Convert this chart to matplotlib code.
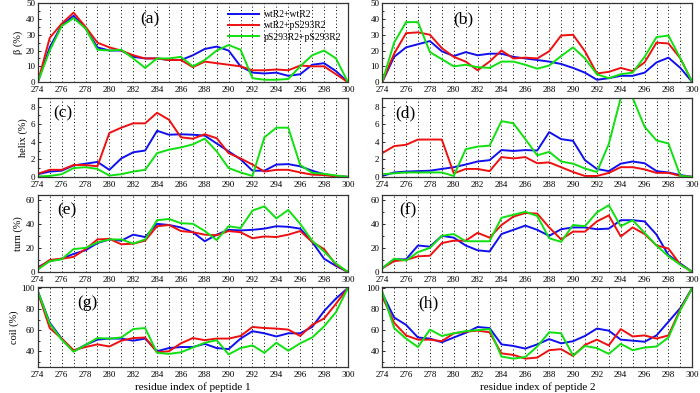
import matplotlib
matplotlib.use('Agg')
import matplotlib.pyplot as plt
from matplotlib.ticker import MultipleLocator

plt.rcParams['font.family'] = ['Liberation Serif', 'DejaVu Serif']

residues = list(range(274, 301))
series_names = ['wtR2+wtR2', 'wtR2+pS293R2', 'pS293R2+pS293R2']
colors = ['#1010ee', '#ee1010', '#10e010']

# beta (%)
beta_p1_wt = [0, 22, 36, 42, 34, 22, 20, 20, 16, 15, 15, 14, 14, 17, 21, 22.5, 20, 10, 6, 5.5, 6, 4, 5, 11, 12, 7, 0]
beta_p1_mix = [0, 28, 37, 44, 35, 25, 22, 20, 17, 15, 15, 14, 14, 9.5, 13, 12, 11, 10, 7.5, 7.5, 8, 7.5, 10.5, 10, 10, 5, 0]
beta_p1_ps = [0, 20, 35.5, 40.5, 34, 20.5, 20, 20.5, 15, 9, 15, 15, 16, 10, 14, 20, 23.5, 20.5, 2.5, 1.5, 1.5, 2, 10, 17, 20, 15, 0]
beta_p2_wt = [0, 16, 22, 24, 26, 19.5, 16.5, 19, 17, 18, 18, 16, 15, 14, 13, 11.5, 9, 6, 1.5, 2.5, 4, 4, 6, 12.5, 15.5, 9, 0]
beta_p2_mix = [0, 18, 31, 31.5, 30, 21.5, 16, 13, 7.5, 13, 20, 15, 15.5, 15, 19.5, 29.5, 30, 19.5, 5.5, 6.5, 9, 7, 12.5, 25, 24.5, 15, 0]
beta_p2_ps = [0, 25, 38, 38, 19, 14.5, 10, 11, 9.5, 9, 13, 13, 11, 8.5, 10.5, 16.5, 22, 15, 5, 2.5, 5, 6, 16, 28.5, 29.5, 15, 0]

# helix (%)
helix_p1_wt = [0.3, 0.6, 0.7, 1.3, 1.5, 1.7, 0.8, 2.1, 2.8, 3.0, 5.25, 4.8, 4.85, 4.8, 4.7, 3.8, 2.9, 2.0, 0.7, 0.7, 1.4, 1.45, 1.2, 0.7, 0.3, 0.1, 0]
helix_p1_mix = [0.35, 0.8, 0.8, 1.35, 1.35, 1.2, 5.0, 5.6, 6.1, 6.1, 7.3, 6.5, 4.5, 4.35, 4.85, 4.4, 2.7, 2.1, 1.4, 0.6, 0.8, 0.8, 0.5, 0.25, 0.2, 0.05, 0]
helix_p1_ps = [0.05, 0.1, 0.3, 1.0, 1.1, 0.9, 0.15, 0.3, 0.6, 0.8, 2.7, 3.1, 3.35, 3.7, 4.35, 2.9, 1.0, 0.5, 0.1, 4.5, 5.6, 5.6, 1.35, 0.45, 0.35, 0.15, 0]
helix_p2_wt = [0.1, 0.5, 0.6, 0.65, 0.7, 0.9, 1.1, 1.4, 1.75, 1.9, 3.05, 2.95, 3.05, 3.0, 5.1, 4.3, 4.1, 1.9, 0.9, 0.65, 1.5, 1.75, 1.55, 0.65, 0.5, 0.2, 0]
helix_p2_mix = [2.7, 3.5, 3.65, 4.25, 4.25, 4.25, 0.4, 0.9, 0.9, 0.65, 2.25, 2.1, 2.25, 1.55, 1.65, 1.1, 0.55, 0.1, 0.1, 0.45, 1.1, 1.1, 0.85, 0.45, 0.45, 0.1, 0]
helix_p2_ps = [0.3, 0.4, 0.5, 0.5, 0.5, 0.5, 0.1, 3.15, 3.45, 3.55, 6.35, 6.1, 4.3, 2.45, 2.85, 1.75, 1.5, 0.95, 0.55, 3.75, 9.0, 9.0, 5.7, 4.15, 3.8, 0.1, 0]

# turn (%)
turn_p1_wt = [4, 9, 11, 15, 18, 24, 27, 26, 31, 29, 40, 39, 37, 33, 25.5, 31, 35, 34.5, 35, 36, 38, 37.5, 36, 25, 11, 5, 0]
turn_p1_mix = [3, 10, 11, 12.5, 19, 27, 27.5, 23, 23.5, 26, 38, 39, 34, 33, 31, 30.5, 34, 33, 28, 29.5, 29, 31, 34, 25, 19, 6, 0]
turn_p1_ps = [2, 9, 10.5, 19, 20, 24.5, 27, 27, 23.5, 27, 43, 44, 40.5, 40, 34, 26.5, 38, 36.5, 51, 54.5, 44.5, 51.5, 40, 26, 17, 7, 0]
turn_p2_wt = [3, 10.5, 10.5, 22, 21, 30, 28.5, 22, 18, 17, 31.5, 35, 38.5, 35, 30, 35.5, 37, 37, 35.5, 36, 43, 43, 42, 31, 14, 7, 0]
turn_p2_mix = [3, 9, 10, 13, 13.5, 24, 26, 26, 32.5, 28.5, 39, 46, 49, 48.5, 37, 27, 33.5, 33.5, 42, 47, 29.5, 37, 31.5, 22, 19.5, 6, 0]
turn_p2_ps = [3, 11, 9.5, 16.5, 20, 30, 31.5, 25.5, 25.5, 25.5, 45, 47.5, 50, 46.5, 28, 25, 39, 38, 49.5, 55.5, 38, 43, 32.5, 22, 13, 6, 0]

# coil (%)
coil_p1_wt = [97, 67, 52, 40, 46, 51, 52, 52, 50, 52, 40, 43, 44, 44, 47, 43, 42, 52, 59, 57, 54, 57, 57, 63, 78, 90, 100]
coil_p1_mix = [96, 62, 52, 41, 44, 46.5, 44.5, 50, 52.5, 53, 39, 40, 47.5, 52.5, 50.5, 52, 52, 54.5, 63, 62, 61.5, 60.5, 54.5, 65, 71, 85, 100]
coil_p1_ps = [97, 66, 51, 39.5, 46, 52.5, 52, 53, 61, 62, 38.5, 37.5, 39, 43.5, 48, 50.5, 37, 43, 45.5, 38.5, 48, 40.5, 47.5, 53, 63.5, 77, 100]
coil_p2_wt = [95, 72, 65, 53, 52, 48.5, 53, 57.5, 63, 62, 46.5, 45, 42.5, 46.5, 51.5, 47.5, 49.5, 54.5, 61.5, 59.5, 51, 50, 49, 55, 68, 81, 100]
coil_p2_mix = [92, 67, 55, 51, 51, 49.5, 57, 58.5, 59.5, 58, 38, 36.5, 33, 34, 41, 42, 35.5, 46, 51, 45.5, 61, 54, 55, 52, 55, 80, 100]
coil_p2_ps = [97, 62, 52, 44, 60.5, 54.5, 57, 59, 60, 61, 35, 33, 34.5, 44.5, 58, 57, 36, 45, 43, 37.5, 47, 41, 43.5, 44.5, 53, 79, 100]

panels = [
    ('(a)', [beta_p1_wt, beta_p1_mix, beta_p1_ps]),
    ('(b)', [beta_p2_wt, beta_p2_mix, beta_p2_ps]),
    ('(c)', [helix_p1_wt, helix_p1_mix, helix_p1_ps]),
    ('(d)', [helix_p2_wt, helix_p2_mix, helix_p2_ps]),
    ('(e)', [turn_p1_wt, turn_p1_mix, turn_p1_ps]),
    ('(f)', [turn_p2_wt, turn_p2_mix, turn_p2_ps]),
    ('(g)', [coil_p1_wt, coil_p1_mix, coil_p1_ps]),
    ('(h)', [coil_p2_wt, coil_p2_mix, coil_p2_ps]),
]
row_ylabels = [u'\u03b2 (%)', 'helix (%)', 'turn (%)', 'coil (%)']
row_ylims = [(0, 50), (0, 9), (0, 64), (25, 101)]
row_major = [10, 2, 20, 20]
row_minor = [5, 1, 10, 10]
label_pos = [(0.36, 0.80), (0.26, 0.80), (0.08, 0.80), (0.075, 0.80),
             (0.095, 0.80), (0.083, 0.80), (0.16, 0.80), (0.15, 0.80)]

fig = plt.figure(figsize=(7, 3.93), dpi=100)
rows_bottom = [0.791, 0.550, 0.308, 0.066]
rows_height = [0.201, 0.201, 0.196, 0.204]
cols_left = [0.054, 0.546]
width = 0.443

for i, (tag, data) in enumerate(panels):
    r, c = divmod(i, 2)
    ax = fig.add_axes([cols_left[c], rows_bottom[r], width, rows_height[r]])
    for x in residues:
        ax.axvline(x, color='black', ls=(0, (1, 2.5)), lw=0.7, zorder=0)
    for ys, col, name in zip(data, colors, series_names):
        ax.plot(residues, ys, color=col, lw=1.4, label=name)
    ax.set_xlim(274, 300)
    ax.set_ylim(*row_ylims[r])
    ax.xaxis.set_major_locator(MultipleLocator(2))
    ax.yaxis.set_major_locator(MultipleLocator(row_major[r]))
    ax.yaxis.set_minor_locator(MultipleLocator(row_minor[r]))
    if r == 3:
        ax.set_yticks([40, 60, 80, 100])
    ax.tick_params(axis='both', which='both', direction='in', labelsize=6.5,
                   length=2.5, width=0.6, pad=2)
    ax.tick_params(axis='y', which='minor', length=1.5)
    ax.tick_params(axis='x', length=0, pad=3)
    for s in ax.spines.values():
        s.set_color('#333333')
        s.set_linewidth(0.9)
    ax.text(label_pos[i][0], label_pos[i][1], tag, transform=ax.transAxes,
            fontsize=12.5, ha='center', va='center')
    if c == 0:
        ax.set_ylabel(row_ylabels[r], fontsize=7.5, labelpad=2)
    if r == 3:
        ax.set_xlabel('residue index of peptide %d' % (c + 1), fontsize=8, labelpad=2)
    if i == 0:
        ax.legend(loc='upper right', fontsize=7, frameon=False, handlelength=3.2,
                  handletextpad=0.5, labelspacing=0.25, borderaxespad=0.3)

fig.savefig('out.png', dpi=100)
